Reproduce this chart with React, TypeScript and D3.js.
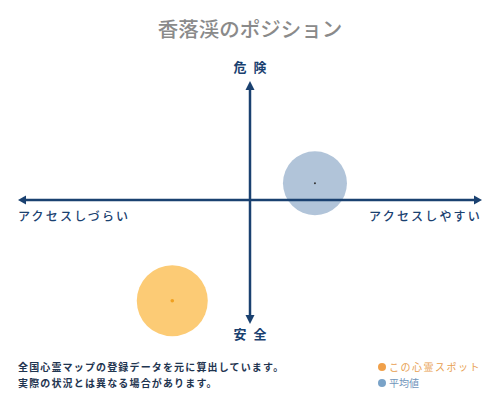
import React from 'react';
import * as d3 from 'd3';

// 軸ラベル
const axisTop = '危険';
const axisBottom = '安全';
const axisLeft = 'アクセスしづらい';
const axisRight = 'アクセスしやすい';

// 位置データ（-1..1）
const spotPos = [-0.335, -0.84];
const avgPos = [0.28, 0.14];

const legendLabels = ['この心霊スポット', '平均値'];
const notes = ['全国心霊マップの登録データを元に算出しています。', '実際の状況とは異なる場合があります。'];

const W = 500;
const H = 400;
const NAVY = '#1a4170';
const FONT = '"Noto Sans CJK JP", "Noto Sans", sans-serif';

export default function App() {
  const x = d3.scaleLinear().domain([-1, 1]).range([18, 482]);
  const y = d3.scaleLinear().domain([-1, 1]).range([320, 80]);
  const cx = x(0);
  const cy = y(0);

  return (
    <svg
      width={W}
      height={H}
      style={{ position: 'absolute', left: 0, top: 0, background: '#fff' }}
      fontFamily={FONT}
    >
      <text x={250} y={37} textAnchor="middle" fontSize={20.5} fill="#8a8a8a" fontWeight={500}>
        香落渓のポジション
      </text>

      {/* bubbles */}
      <circle cx={x(avgPos[0])} cy={y(avgPos[1])} r={32} fill="#b1c4d9" />
      <circle cx={x(avgPos[0])} cy={y(avgPos[1])} r={1} fill="#333" />
      <circle cx={x(spotPos[0])} cy={y(spotPos[1])} r={35.5} fill="#fccb75" />
      <circle cx={x(spotPos[0])} cy={y(spotPos[1])} r={1.8} fill="#f0a020" />

      {/* axes */}
      <line x1={x(-1) + 4} x2={x(1) - 4} y1={cy} y2={cy} stroke={NAVY} strokeWidth={2.5} />
      <line x1={cx} x2={cx} y1={86} y2={320} stroke={NAVY} strokeWidth={2.5} />
      <path d={`M${x(-1)},${cy} L${x(-1) + 8},${cy - 4.5} L${x(-1) + 8},${cy + 4.5} Z`} fill={NAVY} />
      <path d={`M${x(1)},${cy} L${x(1) - 8},${cy - 4.5} L${x(1) - 8},${cy + 4.5} Z`} fill={NAVY} />
      <path d={`M${cx},81 L${cx - 4.5},90 L${cx + 4.5},90 Z`} fill={NAVY} />
      <path d={`M${cx},324 L${cx - 4.5},315 L${cx + 4.5},315 Z`} fill={NAVY} />

      <text x={cx + 3.5} y={72} textAnchor="middle" fontSize={13} fontWeight={700} fill={NAVY} letterSpacing={7}>
        {axisTop}
      </text>
      <text x={cx + 3.5} y={339} textAnchor="middle" fontSize={13} fontWeight={700} fill={NAVY} letterSpacing={7}>
        {axisBottom}
      </text>
      <text x={18} y={221} fontSize={12} fill={NAVY} letterSpacing={2.2} fontWeight={500}>
        {axisLeft}
      </text>
      <text x={482} y={221} textAnchor="end" fontSize={12} fill={NAVY} letterSpacing={2.2} fontWeight={500}>
        {axisRight}
      </text>

      {/* notes */}
      {notes.map((n, i) => (
        <text key={i} x={18} y={371 + i * 16} fontSize={10} fontWeight={700} fill="#1f3550" letterSpacing={1.15}>
          {n}
        </text>
      ))}

      {/* legend */}
      <circle cx={382} cy={367} r={4} fill="#f0a04a" />
      <text x={389} y={371} fontSize={10} fill="#e8a050" letterSpacing={1.5}>
        {legendLabels[0]}
      </text>
      <circle cx={382} cy={383} r={4} fill="#7aa3c8" />
      <text x={389} y={387} fontSize={10} fill="#6f95bb">
        {legendLabels[1]}
      </text>
    </svg>
  );
}
